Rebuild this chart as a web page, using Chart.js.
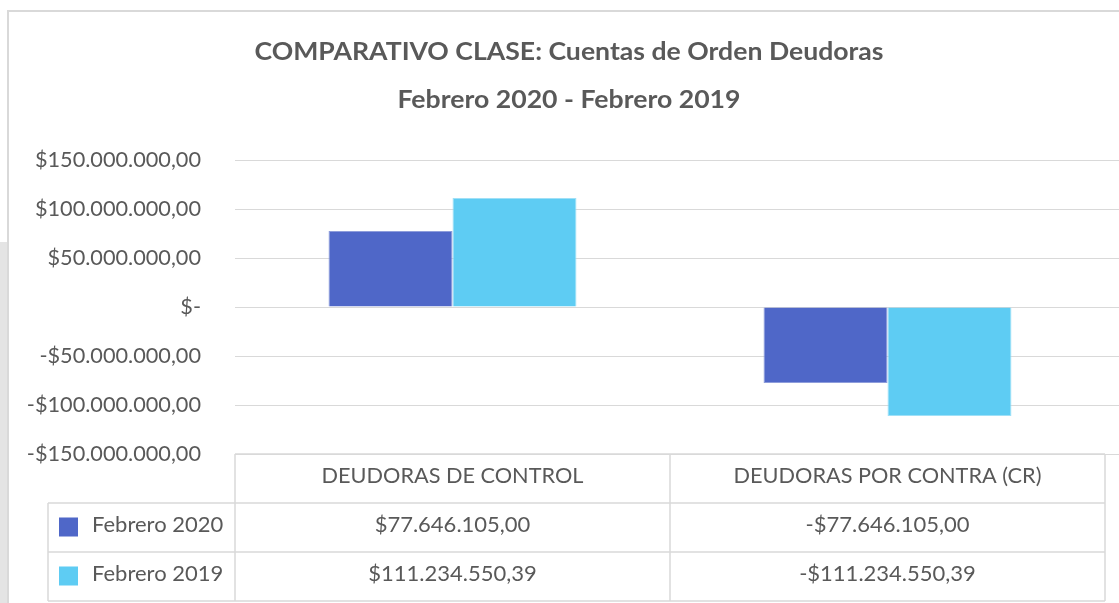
<!DOCTYPE html>
<html><head><meta charset="utf-8">
<script src="https://cdn.jsdelivr.net/npm/chart.js@4/dist/chart.umd.min.js"></script>
<style>html,body{margin:0;padding:0;background:#fff;}#wrap{width:1119px;height:603px;position:relative;}</style>
</head><body><div id="wrap"><canvas id="c" width="1119" height="603"></canvas></div>
<script>
const titleLines = ['COMPARATIVO CLASE: Cuentas de Orden Deudoras', 'Febrero 2020 - Febrero 2019'];
const categories = ['DEUDORAS DE CONTROL', 'DEUDORAS POR CONTRA (CR)'];
const seriesNames = ['Febrero 2020', 'Febrero 2019'];
const feb2020 = [77646105.00, -77646105.00];
const feb2019 = [111234550.39, -111234550.39];
const seriesColors = ['#4F67C8', '#5ECCF3'];
const yTicks = [150000000, 100000000, 50000000, 0, -50000000, -100000000, -150000000];

const TXT = '#595959';
const GRID = '#d9d9d9';

function fmtMoney(v, dec) {
  const neg = v < 0;
  const a = Math.abs(v);
  let s = a.toFixed(dec);
  let [ip, fp] = s.split('.');
  ip = ip.replace(/\B(?=(\d{3})+(?!\d))/g, '.');
  return (neg ? '-' : '') + '$' + ip + (fp ? ',' + fp : '');
}
function tickLabel(v) {
  if (v === 0) return '$-';
  return fmtMoney(v, 2);
}
function fitText(ctx, t, x, y, target) {
  const w = ctx.measureText(t).width;
  const sx = target / w;
  ctx.save();
  ctx.translate(x, y);
  ctx.scale(sx, 1);
  ctx.fillText(t, 0, 0);
  ctx.restore();
}

const decoPlugin = {
  id: 'deco',
  beforeDraw(chart) {
    const ctx = chart.ctx;
    ctx.save();
    ctx.fillStyle = '#e4e4e4';
    ctx.fillRect(0, 242, 7, 361);
    ctx.strokeStyle = '#d9d9d9';
    ctx.lineWidth = 2;
    ctx.beginPath();
    ctx.moveTo(8, 603); ctx.lineTo(8, 11); ctx.lineTo(1119, 11);
    ctx.stroke();
    ctx.restore();
  },
  afterDatasetsDraw(chart) {
    const ctx = chart.ctx;
    const ca = chart.chartArea;
    const x = chart.scales.x;
    const y = chart.scales.y;
    ctx.save();
    // title
    ctx.fillStyle = TXT;
    ctx.textAlign = 'center';
    ctx.textBaseline = 'middle';
    ctx.font = 'bold 25px Lato';
    fitText(ctx, titleLines[0], 569, 52, 629);
    fitText(ctx, titleLines[1], 569, 100, 343);
    // extend gridlines to canvas right edge
    ctx.strokeStyle = GRID;
    ctx.lineWidth = 1;
    yTicks.forEach(v => {
      const py = Math.round(y.getPixelForValue(v)) + 0.5;
      ctx.beginPath(); ctx.moveTo(ca.right, py); ctx.lineTo(1119, py); ctx.stroke();
    });
    // data table
    const catW = (ca.right - ca.left) / categories.length;
    const rowH = 49;
    const top = ca.bottom;
    const legLeft = 48;
    const colEdges = [ca.left];
    categories.forEach((c, i) => colEdges.push(x.getPixelForValue(i) + catW / 2));
    ctx.strokeStyle = GRID;
    ctx.lineWidth = 1.5;
    ctx.beginPath();
    const hl = (yy, x0, x1) => { ctx.moveTo(x0, yy); ctx.lineTo(x1, yy); };
    hl(top, ca.left, ca.right);
    for (let r = 1; r <= 3; r++) hl(top + r * rowH, legLeft, ca.right);
    const vl = (xx, y0, y1) => { ctx.moveTo(xx, y0); ctx.lineTo(xx, y1); };
    vl(legLeft, top + rowH, top + 3 * rowH);
    colEdges.forEach(e => vl(e, top, top + 3 * rowH));
    ctx.stroke();
    // header text
    ctx.font = '21.7px Lato';
    ctx.fillStyle = TXT;
    ctx.textAlign = 'center';
    categories.forEach((c, i) => ctx.fillText(c, x.getPixelForValue(i), top + rowH / 2 - 2));
    ctx.font = '22px Lato';
    const rows = [feb2020, feb2019];
    rows.forEach((vals, r) => {
      const ry = top + rowH * (r + 1) + rowH / 2;
      ctx.fillStyle = seriesColors[r];
      ctx.fillRect(59, ry - 10, 19, 19);
      ctx.fillStyle = TXT;
      ctx.textAlign = 'left';
      ctx.fillText(seriesNames[r], 92, ry - 3);
      ctx.textAlign = 'center';
      vals.forEach((v, i) => ctx.fillText(fmtMoney(v, 2), x.getPixelForValue(i), ry - 3));
    });
    ctx.restore();
  }
};

new Chart(document.getElementById('c'), {
  type: 'bar',
  data: {
    labels: categories,
    datasets: [
      { label: seriesNames[0], data: feb2020, backgroundColor: seriesColors[0], borderColor: '#8e9ddb', borderWidth: 1, barPercentage: 1, categoryPercentage: 0.57 },
      { label: seriesNames[1], data: feb2019, backgroundColor: seriesColors[1], borderColor: '#9fe0f7', borderWidth: 1, barPercentage: 1, categoryPercentage: 0.57 }
    ]
  },
  options: {
    responsive: false,
    animation: false,
    layout: { padding: { top: 160, bottom: 149, left: 0, right: 14 } },
    plugins: { legend: { display: false }, title: { display: false }, tooltip: { enabled: false } },
    scales: {
      x: { display: false },
      y: {
        min: -150000000, max: 150000000,
        afterFit(s) { s.width = 235; },
        afterBuildTicks(s) { s.ticks = yTicks.map(v => ({ value: v })); },
        border: { display: false },
        grid: { color: GRID, lineWidth: 1, drawTicks: false },
        ticks: { callback: v => tickLabel(v), color: TXT, font: { family: 'Lato', size: 21.7 }, padding: 34 }
      }
    }
  },
  plugins: [decoPlugin]
});
</script></body></html>
